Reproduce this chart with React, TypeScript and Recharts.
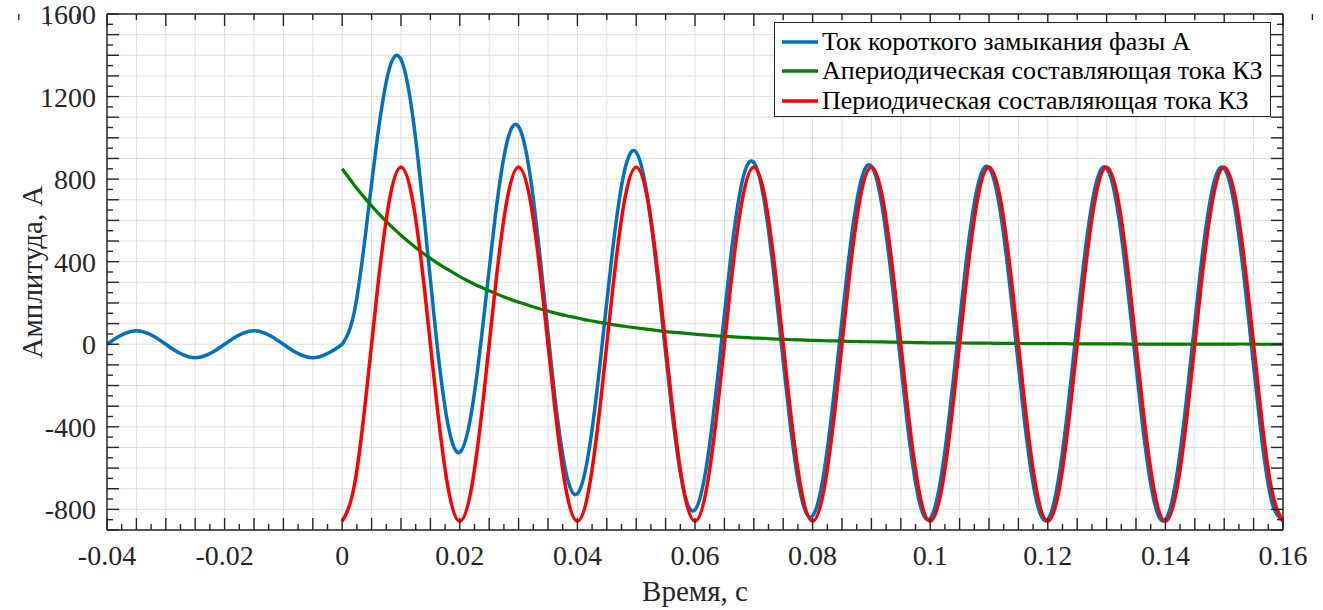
import { LineChart, Line, XAxis, YAxis, CartesianGrid, Legend } from "recharts"

// sample times, ms (step 2 ms)
const timeMs = [
  -40, -38, -36, -34, -32, -30, -28, -26, -24, -22, -20, -18, -16, -14, -12, -10, -8, -6, -4, -2,
  0, 2, 4, 6, 8, 10, 12, 14, 16, 18, 20, 22, 24, 26, 28, 30, 32, 34, 36, 38,
  40, 42, 44, 46, 48, 50, 52, 54, 56, 58, 60, 62, 64, 66, 68, 70, 72, 74, 76, 78,
  80, 82, 84, 86, 88, 90, 92, 94, 96, 98, 100, 102, 104, 106, 108, 110, 112, 114, 116, 118,
  120, 122, 124, 126, 128, 130, 132, 134, 136, 138, 140, 142, 144, 146, 148, 150, 152, 154, 156, 158,
  160,
]

// load current before the fault, -40..0 ms
const preFaultCurrent = [0, 38, 62, 62, 38, 0, -38, -62, -62, -38, 0, 38, 62, 62, 38, 0, -38, -62, -62, -38, 0]

// fault current of phase A, 0..160 ms
const faultCurrent = [
  -1, 148, 542, 1004, 1333, 1379, 1105, 597, 32, -391,
  -523, -327, 110, 612, 976, 1055, 810, 329, -212, -613,
  -724, -510, -56, 460, 839, 930, 697, 226, -306, -698,
  -802, -581, -121, 402, 785, 881, 653, 186, -342, -731,
  -832, -608, -145, 379, 765, 863, 636, 171, -356, -744,
  -844, -618, -155, 371, 757, 856, 629, 165, -362, -749,
  -848, -622, -159, 367, 754, 853, 627, 162, -364, -751,
  -850, -624, -160, 366, 753, 852, 626, 162, -365, -752,
  -851,
]

const aperiodicPart = [
  850, 773, 703, 639, 581, 528, 480, 436, 397, 361,
  328, 298, 271, 247, 224, 204, 185, 168, 153, 139,
  127, 115, 105, 95, 87, 79, 72, 65, 59, 54,
  49, 44, 40, 37, 33, 30, 28, 25, 23, 21,
  19, 17, 16, 14, 13, 12, 11, 10, 9, 8,
  7, 7, 6, 6, 5, 5, 4, 4, 3, 3,
  3, 3, 2, 2, 2, 2, 2, 1, 1, 1,
  1, 1, 1, 1, 1, 1, 1, 1, 0, 0,
  0,
]

const periodicPart = [
  -858, -694, -265, 265, 694, 858, 694, 265, -265, -694,
  -858, -694, -265, 265, 694, 858, 694, 265, -265, -694,
  -858, -694, -265, 265, 694, 858, 694, 265, -265, -694,
  -858, -694, -265, 265, 694, 858, 694, 265, -265, -694,
  -858, -694, -265, 265, 694, 858, 694, 265, -265, -694,
  -858, -694, -265, 265, 694, 858, 694, 265, -265, -694,
  -858, -694, -265, 265, 694, 858, 694, 265, -265, -694,
  -858, -694, -265, 265, 694, 858, 694, 265, -265, -694,
  -858,
]

const xTicks = [
  -40, -37.5, -35, -32.5, -30, -27.5, -25, -22.5, -20, -17.5, -15, -12.5, -10, -7.5, -5, -2.5,
  0, 2.5, 5, 7.5, 10, 12.5, 15, 17.5, 20, 22.5, 25, 27.5, 30, 32.5, 35, 37.5,
  40, 42.5, 45, 47.5, 50, 52.5, 55, 57.5, 60, 62.5, 65, 67.5, 70, 72.5, 75, 77.5,
  80, 82.5, 85, 87.5, 90, 92.5, 95, 97.5, 100, 102.5, 105, 107.5, 110, 112.5, 115, 117.5,
  120, 122.5, 125, 127.5, 130, 132.5, 135, 137.5, 140, 142.5, 145, 147.5, 150, 152.5, 155, 157.5,
  160,
]
const xGridValues = [
  -40, -35, -30, -25, -20, -15, -10, -5, 0, 5, 10, 15, 20, 25, 30, 35, 40, 45, 50, 55,
  60, 65, 70, 75, 80, 85, 90, 95, 100, 105, 110, 115, 120, 125, 130, 135, 140, 145, 150, 155, 160,
]
const xLabelValues = [-40, -20, 0, 20, 40, 60, 80, 100, 120, 140, 160]

const yTicks = [
  -900, -850, -800, -750, -700, -650, -600, -550, -500, -450, -400, -350, -300, -250, -200, -150, -100, -50,
  0, 50, 100, 150, 200, 250, 300, 350, 400, 450, 500, 550, 600, 650, 700, 750, 800, 850, 900, 950,
  1000, 1050, 1100, 1150, 1200, 1250, 1300, 1350, 1400, 1450, 1500, 1550, 1600,
]
const yGridValues = [
  -900, -800, -700, -600, -500, -400, -300, -200, -100, 0, 100, 200, 300, 400, 500, 600, 700, 800,
  900, 1000, 1100, 1200, 1300, 1400, 1500, 1600,
]
const yLabelValues = [-800, -400, 0, 400, 800, 1200, 1600]

const seriesNames = [
  "Ток короткого замыкания фазы А",
  "Апериодическая составляющая тока КЗ",
  "Периодическая составляющая тока КЗ",
]
const seriesColors = ["#0072BD", "#008000", "#FF0000"]

const FAULT_INDEX = 20
const AXIS_COLOR = "#262626"
const FONT = "'Liberation Serif', 'Times New Roman', serif"
const labelStyle = { fontFamily: FONT, fontSize: 28, fill: AXIS_COLOR }

const data = timeMs.map((t, i) => ({
  t,
  pre: i <= FAULT_INDEX ? preFaultCurrent[i] : null,
  total: i >= FAULT_INDEX ? faultCurrent[i - FAULT_INDEX] : null,
  aperiodic: i >= FAULT_INDEX ? aperiodicPart[i - FAULT_INDEX] : null,
  periodic: i >= FAULT_INDEX ? periodicPart[i - FAULT_INDEX] : null,
}))

interface TickProps {
  x?: number
  y?: number
  payload?: { value: number }
}

const tickLen = (major: boolean) => (major ? 12 : 6)

function BottomTick({ x = 0, y = 0, payload }: TickProps) {
  const v = payload?.value ?? 0
  const len = tickLen(v % 5 === 0)
  return (
    <g>
      <line x1={x} y1={y} x2={x} y2={y - len} stroke={AXIS_COLOR} strokeWidth={1.4} />
      {xLabelValues.includes(v) && (
        <text x={x} y={y + 35} textAnchor="middle" style={labelStyle}>
          {String(v / 1000)}
        </text>
      )}
    </g>
  )
}

function TopTick({ x = 0, y = 0, payload }: TickProps) {
  const v = payload?.value ?? 0
  const len = tickLen(v % 5 === 0)
  return <line x1={x} y1={y} x2={x} y2={y + len} stroke={AXIS_COLOR} strokeWidth={1.4} />
}

function LeftTick({ x = 0, y = 0, payload }: TickProps) {
  const v = payload?.value ?? 0
  const len = tickLen(v % 100 === 0)
  return (
    <g>
      <line x1={x} y1={y} x2={x + len} y2={y} stroke={AXIS_COLOR} strokeWidth={1.4} />
      {yLabelValues.includes(v) && (
        <text x={x - 11} y={y + 10} textAnchor="end" style={labelStyle}>
          {v}
        </text>
      )}
    </g>
  )
}

function RightTick({ x = 0, y = 0, payload }: TickProps) {
  const v = payload?.value ?? 0
  const len = tickLen(v % 100 === 0)
  return <line x1={x} y1={y} x2={x - len} y2={y} stroke={AXIS_COLOR} strokeWidth={1.4} />
}

function LegendBox() {
  return (
    <div
      style={{
        boxSizing: "border-box",
        width: 497,
        height: 95,
        paddingTop: 4,
        border: `1.5px solid ${AXIS_COLOR}`,
        background: "#fff",
        fontFamily: FONT,
        fontSize: 26,
        color: "#000",
      }}
    >
      {seriesNames.map((name, i) => (
        <div key={name} style={{ display: "flex", alignItems: "center", height: 29.5, whiteSpace: "nowrap" }}>
          <svg width={47} height={10} style={{ flex: "none" }}>
            <line x1={7} y1={5} x2={43} y2={5} stroke={seriesColors[i]} strokeWidth={3.5} />
          </svg>
          <span>{name}</span>
        </div>
      ))}
    </div>
  )
}

const axisLine = { stroke: AXIS_COLOR, strokeWidth: 1.5 }

export default function App() {
  return (
    <div style={{ position: "absolute", left: 0, top: 0, width: 1323, height: 610, background: "#fff" }}>
      <LineChart
        width={1323}
        height={610}
        data={data}
        margin={{ top: 0, right: 0, bottom: 0, left: 0 }}
        style={{ fontFamily: FONT }}
      >
        <CartesianGrid
          verticalValues={xGridValues}
          horizontalValues={yGridValues}
          stroke="#dedede"
          strokeWidth={1}
        />
        <XAxis
          dataKey="t"
          type="number"
          domain={[-40, 160]}
          ticks={xTicks}
          interval={0}
          allowDataOverflow
          tickSize={0}
          tickMargin={0}
          tickLine={false}
          axisLine={axisLine}
          tick={<BottomTick />}
          height={80}
          label={{
            content: ({ viewBox }: any) => (
              <text
                x={viewBox.x + viewBox.width / 2}
                y={viewBox.y + 71}
                textAnchor="middle"
                style={{ fontFamily: FONT, fontSize: 29, fill: AXIS_COLOR }}
              >
                Время, с
              </text>
            ),
          }}
        />
        <XAxis
          xAxisId="top"
          orientation="top"
          type="number"
          domain={[-40, 160]}
          ticks={xTicks}
          interval={0}
          allowDataOverflow
          tickSize={0}
          tickMargin={0}
          tickLine={false}
          axisLine={axisLine}
          tick={<TopTick />}
          height={14}
        />
        <YAxis
          type="number"
          domain={[-900, 1600]}
          ticks={yTicks}
          interval={0}
          allowDataOverflow
          tickSize={0}
          tickMargin={0}
          tickLine={false}
          axisLine={axisLine}
          tick={<LeftTick />}
          width={107}
          label={{
            content: ({ viewBox }: any) => {
              const cx = viewBox.x + 42
              const cy = viewBox.y + viewBox.height / 2
              return (
                <text
                  x={cx}
                  y={cy}
                  transform={`rotate(-90, ${cx}, ${cy})`}
                  textAnchor="middle"
                  style={{ fontFamily: FONT, fontSize: 29, fill: AXIS_COLOR }}
                >
                  Амплитуда, А
                </text>
              )
            },
          }}
        />
        <YAxis
          yAxisId="right"
          orientation="right"
          type="number"
          domain={[-900, 1600]}
          ticks={yTicks}
          interval={0}
          allowDataOverflow
          tickSize={0}
          tickMargin={0}
          tickLine={false}
          axisLine={axisLine}
          tick={<RightTick />}
          width={40}
        />
        <Legend
          layout="vertical"
          align="center"
          verticalAlign="middle"
          content={() => <LegendBox />}
          wrapperStyle={{ left: 774, top: 22, width: 497, height: 95 }}
        />
        <Line
          dataKey="pre"
          type="natural"
          stroke={seriesColors[0]}
          strokeWidth={3.5}
          dot={false}
          activeDot={false}
          legendType="none"
          isAnimationActive={false}
        />
        <Line
          dataKey="total"
          name={seriesNames[0]}
          type="natural"
          stroke={seriesColors[0]}
          strokeWidth={3.5}
          dot={false}
          activeDot={false}
          isAnimationActive={false}
        />
        <Line
          dataKey="aperiodic"
          name={seriesNames[1]}
          type="natural"
          stroke={seriesColors[1]}
          strokeWidth={3.2}
          dot={false}
          activeDot={false}
          isAnimationActive={false}
        />
        <Line
          dataKey="periodic"
          name={seriesNames[2]}
          type="natural"
          stroke={seriesColors[2]}
          strokeWidth={3.5}
          dot={false}
          activeDot={false}
          isAnimationActive={false}
        />
      </LineChart>
    </div>
  )
}
